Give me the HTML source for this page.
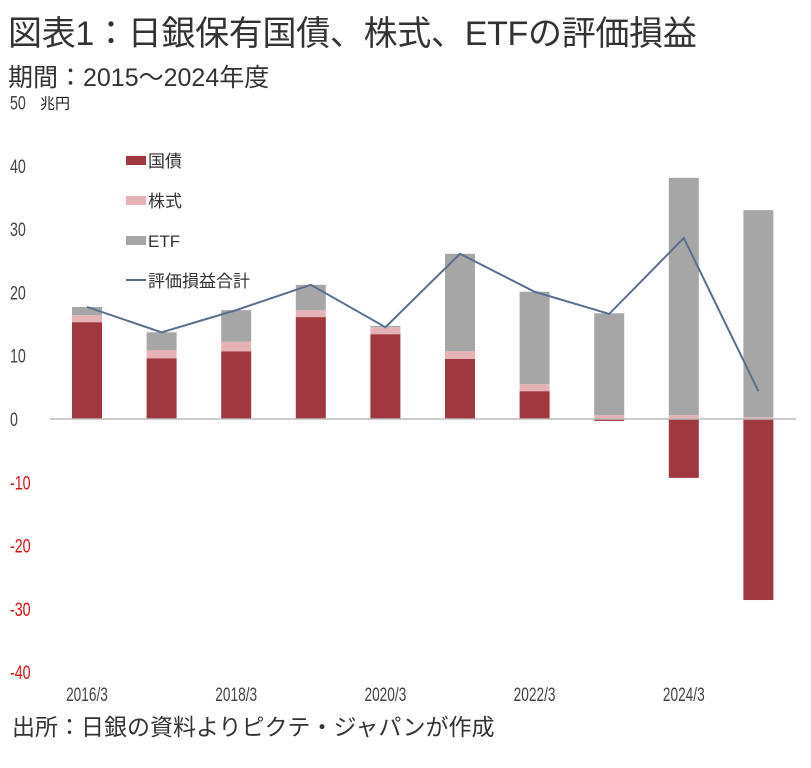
<!DOCTYPE html>
<html><head><meta charset="utf-8">
<style>
body{margin:0;background:#fff;width:811px;height:768px;overflow:hidden;font-family:"Liberation Sans","Noto Sans CJK JP",sans-serif;}
#title{position:absolute;left:8px;top:6px;font-size:34px;color:#333;letter-spacing:-0.3px;white-space:nowrap;}
#sub{position:absolute;left:8px;top:58px;font-size:25px;color:#333;white-space:nowrap;}
#src{position:absolute;left:12px;top:708px;font-size:23px;color:#333;white-space:nowrap;}
svg{position:absolute;left:0;top:0;}
</style></head><body>
<div id="title">図表1：日銀保有国債、株式、ETFの評価損益</div>
<div id="sub">期間：2015～2024年度</div>
<div id="src">出所：日銀の資料よりピクテ・ジャパンが作成</div>
<svg id="chart" width="811" height="768"></svg>
<script>
const categories=["2016/3","2017/3","2018/3","2019/3","2020/3","2021/3","2022/3","2023/3","2024/3","2025/3"];
const jgb=[15.3,9.6,10.7,16.1,13.4,9.5,4.4,-0.3,-9.3,-28.6];
const stocks=[1.1,1.3,1.5,1.1,1.1,1.2,1.1,0.6,0.6,0.3];
const etf=[1.3,2.8,5.0,4.0,0.2,15.4,14.6,16.1,37.5,32.7];
const total=[17.7,13.7,17.2,21.2,14.5,26.1,20.1,16.6,28.6,4.4];
const yTicks=[50,40,30,20,10,0,-10,-20,-30,-40];
const xLabelEvery=2;
const NS="http://www.w3.org/2000/svg";
const svg=document.getElementById('chart');
const y=v=>419-v*6.33;
const x=i=>87+i*74.6;
const bw=30;
function mk(t,a,p){const e=document.createElementNS(NS,t);for(const k in a)e.setAttribute(k,a[k]);(p||svg).appendChild(e);return e;}
yTicks.forEach(v=>{
  const t=mk('text',{x:10,y:y(v)+7,'font-size':19,fill:v<0?'#d11':'#444',transform:`translate(10,0) scale(0.75,1) translate(-10,0)`});
  t.textContent=v;
  
  
});
const unit=mk('text',{x:40,y:y(50)+6,'font-size':15,fill:'#222'});unit.textContent='兆円';


categories.forEach((c,i)=>{
  const cx=x(i);
  const jg=jgb[i];
  let base=0;
  const segs=[];
  if(jg>=0){segs.push([0,jg,'#a0393f','bar-jgb']);base=jg;}
  else segs.push([jg,0,'#a0393f','bar-jgb']);
  segs.push([base,base+stocks[i],'#e5b3b6','bar-stocks']);base+=stocks[i];
  segs.push([base,base+etf[i],'#a6a6a6','bar-etf']);
  segs.forEach(s=>{
    const r=mk('rect',{x:cx-bw/2,y:y(Math.max(s[0],s[1])),width:bw,height:Math.abs(y(s[0])-y(s[1])),fill:s[2]});
    
    
  });
  if(i%xLabelEvery===0){
    const t=mk('text',{x:cx,y:701,'font-size':19,fill:'#444','text-anchor':'middle',transform:`translate(${cx},0) scale(0.72,1) translate(${-cx},0)`});
    t.textContent=c;
    
    
  }
});
const zl=mk('line',{x1:50,x2:796,y1:y(0),y2:y(0),stroke:'#bbb','stroke-width':1.5});


const pl=mk('polyline',{points:total.map((v,i)=>x(i)+','+y(v)).join(' '),fill:'none',stroke:'#5a6f8e','stroke-width':2});


const leg=[['国債','#a0393f','rect'],['株式','#e5b3b6','rect'],['ETF','#a6a6a6','rect'],['評価損益合計','#5a6f8e','line']];
leg.forEach((l,k)=>{
  const ly=160+k*40;
  const g=mk('g',{});
  
  
  if(l[2]==='rect')mk('rect',{x:126,y:ly-4,width:20,height:9,fill:l[1]},g);
  else mk('line',{x1:126,x2:146,y1:ly,y2:ly,stroke:l[1],'stroke-width':2},g);
  const t=mk('text',{x:148,y:ly+7,'font-size':17,fill:'#333'},g);t.textContent=l[0];
});
</script>
</body></html>
